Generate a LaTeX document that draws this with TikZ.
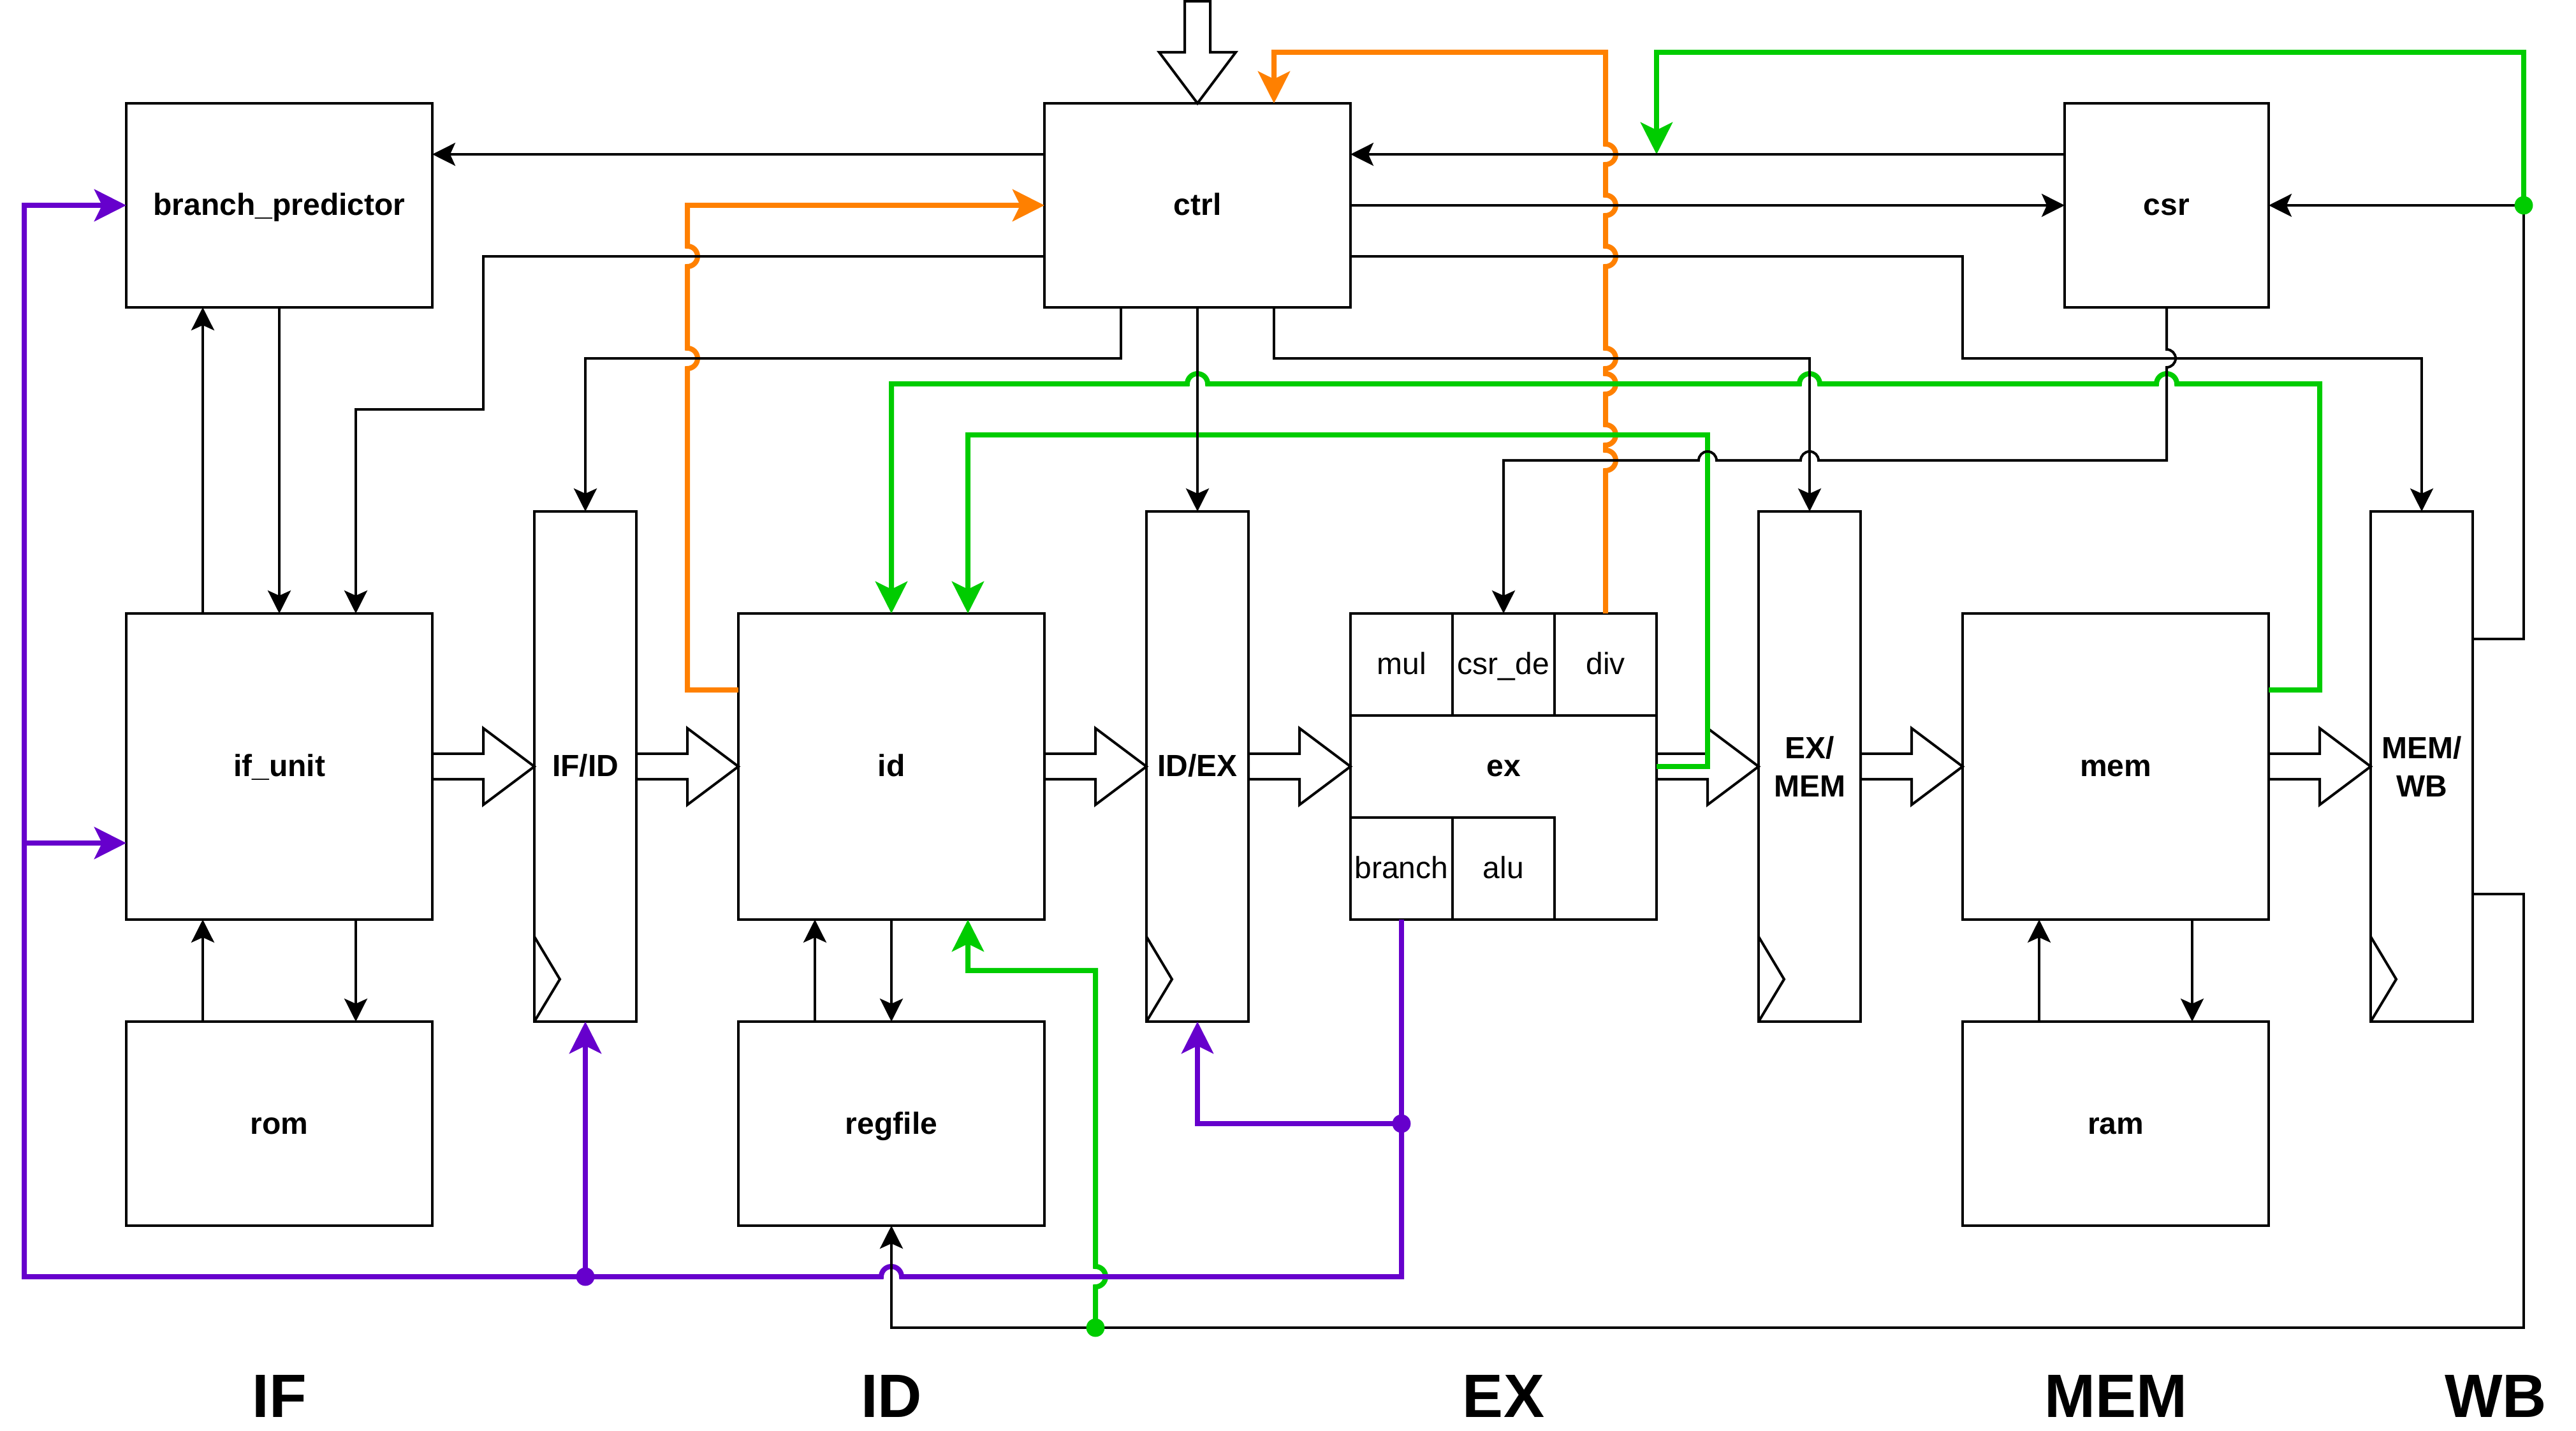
\documentclass[tikz,border=0pt]{standalone}
\usepackage{fontspec}
\setmainfont{Liberation Sans}
\usetikzlibrary{arrows.meta,calc}
\definecolor{cOrange}{HTML}{FF8000}
\definecolor{cGreen}{HTML}{00CC00}
\definecolor{cPurple}{HTML}{6600CC}

% hollow block arrow between two horizontally aligned nodes
\newcommand{\hbarrow}[2]{%
  \draw[blockarr] ($(#1.east)+(0,-5)$) -- ($(#2.west)+(-20,-5)$) -- ($(#2.west)+(-20,-15)$)
    -- (#2.west) -- ($(#2.west)+(-20,15)$) -- ($(#2.west)+(-20,5)$) -- ($(#1.east)+(0,5)$) -- cycle;}

\begin{document}
\begin{tikzpicture}[x=1pt,y=-1pt,
  every node/.style={inner sep=0pt,outer sep=0pt},
  unitbox/.style n args={2}{draw,line width=1pt,fill=white,minimum width=#1pt,minimum height=#2pt,
    font=\fontsize{12}{14.4}\selectfont\bfseries,text height=11pt,text depth=3pt},
  regbox/.style={draw,line width=1pt,fill=white,minimum width=40pt,minimum height=200pt,
    align=center,font=\fontsize{12}{15}\selectfont\bfseries},
  cellbox/.style={draw,line width=1pt,minimum width=40pt,minimum height=40pt,
    font=\fontsize{12}{14.4}\selectfont,text height=11pt,text depth=3pt},
  blockarr/.style={draw,line width=1pt,fill=white,line join=miter},
  wire/.style={line width=1pt,-{Stealth[length=9pt,width=9pt,inset=2pt]}},
  cwire/.style={line width=2pt,-{Stealth[length=12.5pt,width=12.5pt,inset=3pt]}},
  plainc/.style={line width=2pt},
  stage/.style={font=\fontsize{24}{28.8}\selectfont\bfseries,anchor=base}
]
\useasboundingbox (0.5,-0.5) rectangle (1010.5,560.5);

% ---------- functional units ----------
\node[unitbox={120}{80}]  (bp)   at (110,80)  {branch\_predictor};
\node[unitbox={120}{80}]  (ctrl) at (470,80)  {ctrl};
\node[unitbox={80}{80}]   (csr)  at (850,80)  {csr};
\node[unitbox={120}{120}] (ifu)  at (110,300) {if\_unit};
\node[unitbox={120}{80}]  (rom)  at (110,440) {rom};
\node[unitbox={120}{120}] (id)   at (350,300) {id};
\node[unitbox={120}{80}]  (regfile) at (350,440) {regfile};
\node[unitbox={120}{120}] (ex)   at (590,300) {ex};
\node[unitbox={120}{120}] (mem)  at (830,300) {mem};
\node[unitbox={120}{80}]  (ram)  at (830,440) {ram};

% sub-units of ex
\node[cellbox] (mul)    at (550,260) {mul};
\node[cellbox] (csrde)  at (590,260) {csr\_de};
\node[cellbox] (div)    at (630,260) {div};
\node[cellbox] (branch) at (550,340) {branch};
\node[cellbox] (alu)    at (590,340) {alu};

% ---------- pipeline registers ----------
\node[regbox] (ifid)  at (230,300) {\rule{0pt}{11pt}IF/ID\rule[-3pt]{0pt}{3pt}};
\node[regbox] (idex)  at (470,300) {\rule{0pt}{11pt}ID/EX\rule[-3pt]{0pt}{3pt}};
\node[regbox] (exmem) at (710,300) {\rule{0pt}{11pt}EX/\\MEM\rule[-2.4pt]{0pt}{2.4pt}};
\node[regbox] (memwb) at (950,300) {\rule{0pt}{11pt}MEM/\\WB\rule[-2.4pt]{0pt}{2.4pt}};
\foreach \r in {ifid,idex,exmem,memwb}
  \draw[line width=1pt] ($(\r.south west)+(0,-33.3)$) -- ++(10,16.7) -- (\r.south west);

% ---------- data path block arrows ----------
\hbarrow{ifu}{ifid}
\hbarrow{ifid}{id}
\hbarrow{id}{idex}
\hbarrow{idex}{ex}
\hbarrow{ex}{exmem}
\hbarrow{exmem}{mem}
\hbarrow{mem}{memwb}
\coordinate (instin) at (470,0);
\draw[blockarr] ($(instin)+(-5,0)$) -- ($(ctrl.north)+(-5,-20)$) -- ($(ctrl.north)+(-15,-20)$)
  -- (ctrl.north) -- ($(ctrl.north)+(15,-20)$) -- ($(ctrl.north)+(5,-20)$) -- ($(instin)+(5,0)$) -- cycle;

% ---------- junction points ----------
\coordinate (brj)  at (550,440);
\coordinate (flj)  at (230,500);
\coordinate (wbc)  at (990,80);
\coordinate (wbr)  at (430,520);

% ---------- stall requests (orange) ----------
\draw[cwire,cOrange] (id.west |- 0,270) -- (270,270) -- (270,144)
  arc[start angle=90,end angle=-90,radius=4] -- (270,104)
  arc[start angle=90,end angle=-90,radius=4] -- (270,80) -- (ctrl.west);
\draw[cwire,cOrange] (div.north) -- (630,184)
  arc[start angle=90,end angle=-90,radius=4] -- (630,174)
  arc[start angle=90,end angle=-90,radius=4] -- (630,154)
  arc[start angle=90,end angle=-90,radius=4] -- (630,144)
  arc[start angle=90,end angle=-90,radius=4] -- (630,104)
  arc[start angle=90,end angle=-90,radius=4] -- (630,84)
  arc[start angle=90,end angle=-90,radius=4] -- (630,64)
  arc[start angle=90,end angle=-90,radius=4] -- (630,20) -- (500,20) -- (ctrl.north -| 500,0);

% ---------- forwarding / write back (green) ----------
\draw[cwire,cGreen] (mem.east |- 0,270) -- (910,270) -- (910,150) -- (854,150)
  arc[start angle=0,end angle=-180,radius=4] -- (714,150)
  arc[start angle=0,end angle=-180,radius=4] -- (474,150)
  arc[start angle=0,end angle=-180,radius=4] -- (350,150) -- (id.north);
\draw[cwire,cGreen] (ex.east) -- (670,300) -- (670,170) -- (380,170) -- (id.north -| 380,0);
\draw[cwire,cGreen] (wbc) -- (990,20) -- (650,20) -- (650,60);
\draw[cwire,cGreen] (wbr) -- (430,504)
  arc[start angle=90,end angle=-90,radius=4] -- (430,380) -- (380,380) -- (id.south -| 380,0);

% ---------- branch / flush (purple) ----------
\draw[cwire,cPurple] (branch.south) -- (brj) -- (470,440) -- (idex.south);
\draw[cwire,cPurple] (brj) -- (550,500) -- (354,500)
  arc[start angle=0,end angle=-180,radius=4] -- (10,500) -- (10,80) -- (bp.west);
\draw[cwire,cPurple] (10,330) -- (ifu.west |- 0,330);
\draw[cwire,cPurple] (flj) -- (ifid.south);

% ---------- control wires (black) ----------
\draw[wire] (ctrl.west |- 0,60) -- (bp.east |- 0,60);
\draw[wire] (csr.west |- 0,60) -- (ctrl.east |- 0,60);
\draw[wire] (ctrl.east) -- (csr.west);
\draw[wire] (ctrl.east |- 0,100) -- (770,100) -- (770,140) -- (950,140) -- (memwb.north);
\draw[wire] (ctrl.west |- 0,100) -- (190,100) -- (190,160) -- (140,160) -- (ifu.north -| 140,0);
\draw[wire] (ctrl.south -| 440,0) -- (440,140) -- (230,140) -- (ifid.north);
\draw[wire] (ctrl.south) -- (idex.north);
\draw[wire] (ctrl.south -| 500,0) -- (500,140) -- (710,140) -- (exmem.north);
\draw[wire] (csr.south) -- (850,136.5)
  arc[start angle=-90,end angle=90,radius=3.5] -- (850,180) -- (713.5,180)
  arc[start angle=0,end angle=-180,radius=3.5] -- (673.5,180)
  arc[start angle=0,end angle=-180,radius=3.5] -- (590,180) -- (csrde.north);
\draw[wire] (ifu.north -| 80,0) -- (bp.south -| 80,0);
\draw[wire] (bp.south) -- (ifu.north);
\draw[wire] (rom.north -| 80,0) -- (ifu.south -| 80,0);
\draw[wire] (ifu.south -| 140,0) -- (rom.north -| 140,0);
\draw[wire] (regfile.north -| 320,0) -- (id.south -| 320,0);
\draw[wire] (id.south) -- (regfile.north);
\draw[wire] (ram.north -| 800,0) -- (mem.south -| 800,0);
\draw[wire] (mem.south -| 860,0) -- (ram.north -| 860,0);
\draw[wire] (memwb.east |- 0,250) -- (990,250) -- (wbc) -- (csr.east);
\draw[wire] (memwb.east |- 0,350) -- (990,350) -- (990,520) -- (wbr) -- (350,520) -- (regfile.south);

% ---------- junction dots ----------
\fill[cPurple] (brj) circle[radius=3.6];
\fill[cPurple] (flj) circle[radius=3.6];
\fill[cGreen] (wbc) circle[radius=3.6];
\fill[cGreen] (wbr) circle[radius=3.6];

% ---------- stage names ----------
\node[stage] (sif)  at (110,555) {IF};
\node[stage] (sid)  at (350,555) {ID};
\node[stage] (sex)  at (590,555) {EX};
\node[stage] (smem) at (830,555) {MEM};
\node[stage] (swb)  at (979,555) {WB};
\end{tikzpicture}
\end{document}
